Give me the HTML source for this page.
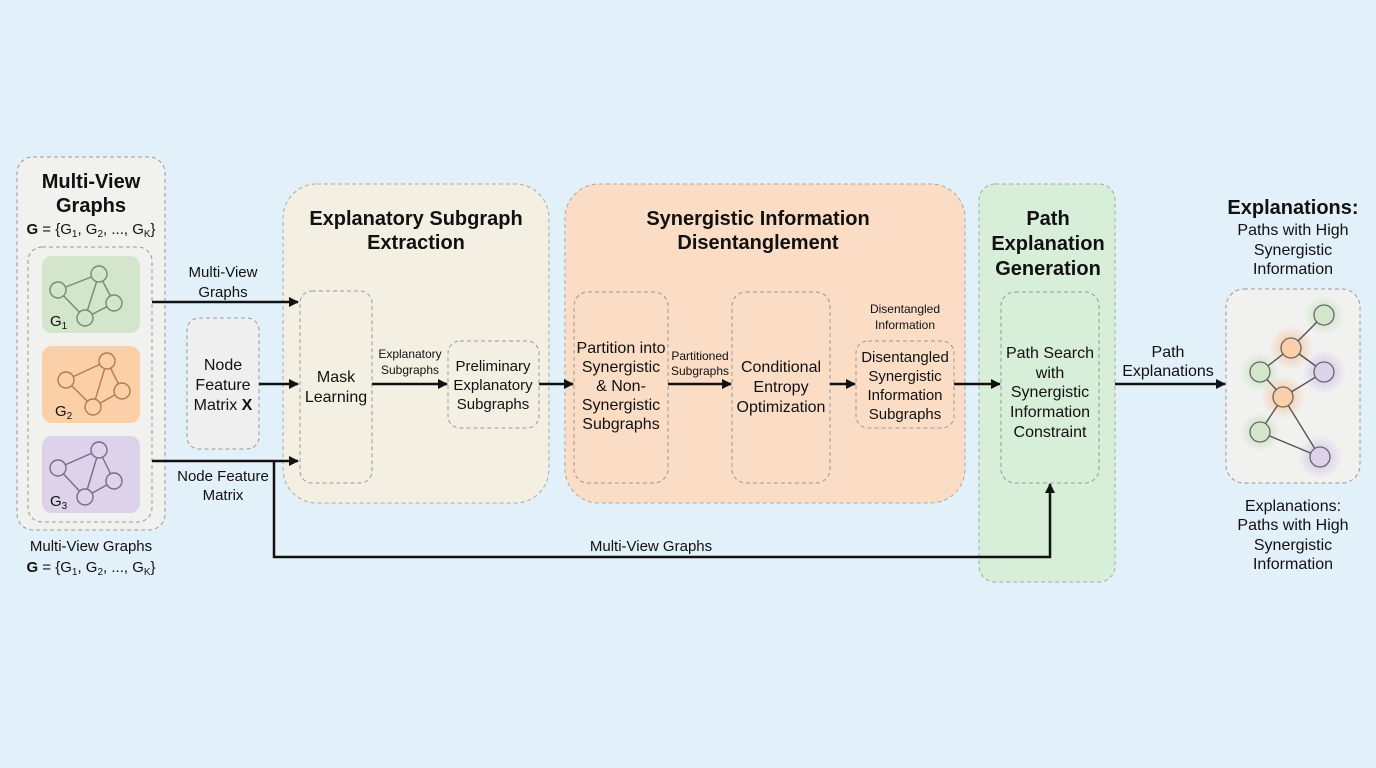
<!DOCTYPE html>
<html><head><meta charset="utf-8"><style>
html,body{margin:0;padding:0;background:#e2f0f9;}
svg{display:block;font-family:"Liberation Sans Narrow","Liberation Sans",sans-serif;}
</style></head><body>
<svg width="1376" height="768" viewBox="0 0 1376 768" xmlns="http://www.w3.org/2000/svg">
<defs>
<marker id="ah" markerWidth="10" markerHeight="10" refX="9" refY="5" orient="auto" markerUnits="userSpaceOnUse">
<path d="M0,0 L10,5 L0,10 z" fill="#111"/></marker>
<radialGradient id="gg"><stop offset="0" stop-color="#a9d39a" stop-opacity=".7"/><stop offset="1" stop-color="#a9d39a" stop-opacity="0"/></radialGradient>
<radialGradient id="go"><stop offset="0" stop-color="#f8b077" stop-opacity=".8"/><stop offset="1" stop-color="#f8b077" stop-opacity="0"/></radialGradient>
<radialGradient id="gp"><stop offset="0" stop-color="#c2b2e2" stop-opacity=".8"/><stop offset="1" stop-color="#c2b2e2" stop-opacity="0"/></radialGradient>
</defs>
<rect width="1376" height="768" fill="#e2f0f9"/>

<!-- Left panel -->
<rect x="17" y="157" width="148" height="373" rx="16" fill="#f1f1f0" stroke="#999" stroke-dasharray="4 3"/>
<text x="91" y="188" text-anchor="middle" font-size="20" font-weight="bold" fill="#111">Multi-View</text>
<text x="91" y="212" text-anchor="middle" font-size="20" font-weight="bold" fill="#111">Graphs</text>
<text x="91" y="234" text-anchor="middle" font-size="15" fill="#111"><tspan font-weight="bold">G</tspan> = {G<tspan font-size="10" dy="3">1</tspan><tspan dy="-3">, G</tspan><tspan font-size="10" dy="3">2</tspan><tspan dy="-3">, ..., G</tspan><tspan font-size="10" dy="3">K</tspan><tspan dy="-3">}</tspan></text>
<rect x="28" y="247" width="124" height="275" rx="14" fill="none" stroke="#999" stroke-dasharray="4 3"/>

<g stroke-width="1.4">
<rect x="42" y="256" width="98" height="77" rx="10" fill="#d3e6cb"/>
<g stroke="#6f8f6a" fill="#d3e6cb"><line x1="58" y1="290" x2="99" y2="274"/><line x1="58" y1="290" x2="85" y2="318"/><line x1="99" y1="274" x2="85" y2="318"/><line x1="99" y1="274" x2="114" y2="303"/><line x1="114" y1="303" x2="85" y2="318"/>
<circle cx="58" cy="290" r="8"/><circle cx="99" cy="274" r="8"/><circle cx="114" cy="303" r="8"/><circle cx="85" cy="318" r="8"/></g>
<text x="50" y="326" font-size="15" fill="#111">G<tspan font-size="10" dy="3">1</tspan></text>

<rect x="42" y="346" width="98" height="77" rx="10" fill="#fbcfa8"/>
<g stroke="#b87a47" fill="#fbcfa8"><line x1="66" y1="380" x2="107" y2="361"/><line x1="66" y1="380" x2="93" y2="407"/><line x1="107" y1="361" x2="93" y2="407"/><line x1="107" y1="361" x2="122" y2="391"/><line x1="122" y1="391" x2="93" y2="407"/>
<circle cx="66" cy="380" r="8"/><circle cx="107" cy="361" r="8"/><circle cx="122" cy="391" r="8"/><circle cx="93" cy="407" r="8"/></g>
<text x="55" y="416" font-size="15" fill="#111">G<tspan font-size="10" dy="3">2</tspan></text>

<rect x="42" y="436" width="98" height="77" rx="10" fill="#dcd3ea"/>
<g stroke="#776c88" fill="#dcd3ea"><line x1="58" y1="468" x2="99" y2="450"/><line x1="58" y1="468" x2="85" y2="497"/><line x1="99" y1="450" x2="85" y2="497"/><line x1="99" y1="450" x2="114" y2="481"/><line x1="114" y1="481" x2="85" y2="497"/>
<circle cx="58" cy="468" r="8"/><circle cx="99" cy="450" r="8"/><circle cx="114" cy="481" r="8"/><circle cx="85" cy="497" r="8"/></g>
<text x="50" y="506" font-size="15" fill="#111">G<tspan font-size="10" dy="3">3</tspan></text>
</g>

<text x="91" y="551" text-anchor="middle" font-size="15" fill="#111">Multi-View Graphs</text>
<text x="91" y="572" text-anchor="middle" font-size="15" fill="#111"><tspan font-weight="bold">G</tspan> = {G<tspan font-size="10" dy="3">1</tspan><tspan dy="-3">, G</tspan><tspan font-size="10" dy="3">2</tspan><tspan dy="-3">, ..., G</tspan><tspan font-size="10" dy="3">K</tspan><tspan dy="-3">}</tspan></text>

<!-- Node feature box -->
<rect x="187" y="318" width="72" height="131" rx="12" fill="#efefef" stroke="#999" stroke-dasharray="4 3"/>
<text x="223" y="370" text-anchor="middle" font-size="16" fill="#111">Node</text>
<text x="223" y="390" text-anchor="middle" font-size="16" fill="#111">Feature</text>
<text x="223" y="410" text-anchor="middle" font-size="16" fill="#111">Matrix <tspan font-weight="bold">X</tspan></text>

<text x="223" y="277" text-anchor="middle" font-size="15" fill="#111">Multi-View</text>
<text x="223" y="297" text-anchor="middle" font-size="15" fill="#111">Graphs</text>
<text x="223" y="481" text-anchor="middle" font-size="15" fill="#111">Node Feature</text>
<text x="223" y="500" text-anchor="middle" font-size="15" fill="#111">Matrix</text>

<!-- Box 1 -->
<rect x="283" y="184" width="266" height="319" rx="34" fill="#f3f0e3" stroke="#aaa" stroke-dasharray="4 3"/>
<text x="416" y="225" text-anchor="middle" font-size="20" font-weight="bold" fill="#111">Explanatory Subgraph</text>
<text x="416" y="249" text-anchor="middle" font-size="20" font-weight="bold" fill="#111">Extraction</text>
<rect x="300" y="291" width="72" height="192" rx="12" fill="none" stroke="#999" stroke-dasharray="4 3"/>
<text x="336" y="382" text-anchor="middle" font-size="16" fill="#111">Mask</text>
<text x="336" y="402" text-anchor="middle" font-size="16" fill="#111">Learning</text>
<text x="410" y="358" text-anchor="middle" font-size="12" fill="#111">Explanatory</text>
<text x="410" y="374" text-anchor="middle" font-size="12" fill="#111">Subgraphs</text>
<rect x="448" y="341" width="91" height="87" rx="12" fill="none" stroke="#999" stroke-dasharray="4 3"/>
<text x="493" y="371" text-anchor="middle" font-size="15" fill="#111">Preliminary</text>
<text x="493" y="390" text-anchor="middle" font-size="15" fill="#111">Explanatory</text>
<text x="493" y="409" text-anchor="middle" font-size="15" fill="#111">Subgraphs</text>

<!-- Box 2 -->
<rect x="565" y="184" width="400" height="319" rx="34" fill="#fbdcc5" stroke="#aaa" stroke-dasharray="4 3"/>
<text x="758" y="225" text-anchor="middle" font-size="20" font-weight="bold" fill="#111">Synergistic Information</text>
<text x="758" y="249" text-anchor="middle" font-size="20" font-weight="bold" fill="#111">Disentanglement</text>
<rect x="574" y="292" width="94" height="191" rx="14" fill="none" stroke="#999" stroke-dasharray="4 3"/>
<text x="621" y="353" text-anchor="middle" font-size="16" fill="#111">Partition into</text>
<text x="621" y="372" text-anchor="middle" font-size="16" fill="#111">Synergistic</text>
<text x="621" y="391" text-anchor="middle" font-size="16" fill="#111">&amp; Non-</text>
<text x="621" y="410" text-anchor="middle" font-size="16" fill="#111">Synergistic</text>
<text x="621" y="429" text-anchor="middle" font-size="16" fill="#111">Subgraphs</text>
<text x="700" y="360" text-anchor="middle" font-size="12" fill="#111">Partitioned</text>
<text x="700" y="375" text-anchor="middle" font-size="12" fill="#111">Subgraphs</text>
<rect x="732" y="292" width="98" height="191" rx="14" fill="none" stroke="#999" stroke-dasharray="4 3"/>
<text x="781" y="372" text-anchor="middle" font-size="16" fill="#111">Conditional</text>
<text x="781" y="392" text-anchor="middle" font-size="16" fill="#111">Entropy</text>
<text x="781" y="412" text-anchor="middle" font-size="16" fill="#111">Optimization</text>
<text x="905" y="313" text-anchor="middle" font-size="12" fill="#111">Disentangled</text>
<text x="905" y="329" text-anchor="middle" font-size="12" fill="#111">Information</text>
<rect x="856" y="341" width="98" height="87" rx="12" fill="none" stroke="#999" stroke-dasharray="4 3"/>
<text x="905" y="362" text-anchor="middle" font-size="15" fill="#111">Disentangled</text>
<text x="905" y="381" text-anchor="middle" font-size="15" fill="#111">Synergistic</text>
<text x="905" y="400" text-anchor="middle" font-size="15" fill="#111">Information</text>
<text x="905" y="419" text-anchor="middle" font-size="15" fill="#111">Subgraphs</text>

<!-- Box 3 -->
<rect x="979" y="184" width="136" height="398" rx="16" fill="#d7eed8" stroke="#aaa" stroke-dasharray="4 3"/>
<text x="1048" y="225" text-anchor="middle" font-size="20" font-weight="bold" fill="#111">Path</text>
<text x="1048" y="250" text-anchor="middle" font-size="20" font-weight="bold" fill="#111">Explanation</text>
<text x="1048" y="275" text-anchor="middle" font-size="20" font-weight="bold" fill="#111">Generation</text>
<rect x="1001" y="292" width="98" height="191" rx="14" fill="none" stroke="#999" stroke-dasharray="4 3"/>
<text x="1050" y="358" text-anchor="middle" font-size="16" fill="#111">Path Search</text>
<text x="1050" y="378" text-anchor="middle" font-size="16" fill="#111">with</text>
<text x="1050" y="397" text-anchor="middle" font-size="16" fill="#111">Synergistic</text>
<text x="1050" y="417" text-anchor="middle" font-size="16" fill="#111">Information</text>
<text x="1050" y="437" text-anchor="middle" font-size="16" fill="#111">Constraint</text>

<text x="1168" y="357" text-anchor="middle" font-size="16" fill="#111">Path</text>
<text x="1168" y="376" text-anchor="middle" font-size="16" fill="#111">Explanations</text>

<!-- Right -->
<text x="1293" y="214" text-anchor="middle" font-size="20" font-weight="bold" fill="#111">Explanations:</text>
<text x="1293" y="235" text-anchor="middle" font-size="16" fill="#111">Paths with High</text>
<text x="1293" y="255" text-anchor="middle" font-size="16" fill="#111">Synergistic</text>
<text x="1293" y="274" text-anchor="middle" font-size="16" fill="#111">Information</text>
<rect x="1226" y="289" width="134" height="194" rx="18" fill="#f1f1f0" stroke="#999" stroke-dasharray="4 3"/>
<g>
<circle cx="1324" cy="315" r="20" fill="url(#gg)"/><circle cx="1291" cy="348" r="22" fill="url(#go)"/>
<circle cx="1260" cy="372" r="20" fill="url(#gg)"/><circle cx="1324" cy="372" r="22" fill="url(#gp)"/>
<circle cx="1283" cy="397" r="22" fill="url(#go)"/><circle cx="1260" cy="432" r="20" fill="url(#gg)"/>
<circle cx="1320" cy="457" r="22" fill="url(#gp)"/>
<g stroke="#555" stroke-width="1.4"><line x1="1324" y1="315" x2="1291" y2="348"/><line x1="1291" y1="348" x2="1260" y2="372"/><line x1="1291" y1="348" x2="1324" y2="372"/><line x1="1260" y1="372" x2="1283" y2="397"/><line x1="1324" y1="372" x2="1283" y2="397"/><line x1="1283" y1="397" x2="1260" y2="432"/><line x1="1283" y1="397" x2="1320" y2="457"/><line x1="1260" y1="432" x2="1320" y2="457"/></g>
<g stroke="#666" stroke-width="1.3"><circle cx="1324" cy="315" r="10" fill="#d3e6cb"/><circle cx="1291" cy="348" r="10" fill="#fbcfa8"/><circle cx="1260" cy="372" r="10" fill="#d3e6cb"/><circle cx="1324" cy="372" r="10" fill="#dcd3ea"/><circle cx="1283" cy="397" r="10" fill="#fbcfa8"/><circle cx="1260" cy="432" r="10" fill="#d3e6cb"/><circle cx="1320" cy="457" r="10" fill="#dcd3ea"/></g>
</g>
<text x="1293" y="511" text-anchor="middle" font-size="16" fill="#111">Explanations:</text>
<text x="1293" y="530" text-anchor="middle" font-size="16" fill="#111">Paths with High</text>
<text x="1293" y="550" text-anchor="middle" font-size="16" fill="#111">Synergistic</text>
<text x="1293" y="569" text-anchor="middle" font-size="16" fill="#111">Information</text>

<!-- Arrows -->
<g stroke="#111" stroke-width="2.5" fill="none" marker-end="url(#ah)">
<line x1="152" y1="302" x2="298" y2="302"/>
<line x1="259" y1="384" x2="298" y2="384"/>
<line x1="152" y1="461" x2="298" y2="461"/>
<line x1="372" y1="384" x2="447" y2="384"/>
<line x1="539" y1="384" x2="573" y2="384"/>
<line x1="668" y1="384" x2="731" y2="384"/>
<line x1="830" y1="384" x2="855" y2="384"/>
<line x1="954" y1="384" x2="1000" y2="384"/>
<line x1="1115" y1="384" x2="1225" y2="384"/>
<polyline points="274,461 274,557 1050,557 1050,484"/>
</g>
<text x="651" y="551" text-anchor="middle" font-size="15" fill="#111">Multi-View Graphs</text>
</svg>
</body></html>
